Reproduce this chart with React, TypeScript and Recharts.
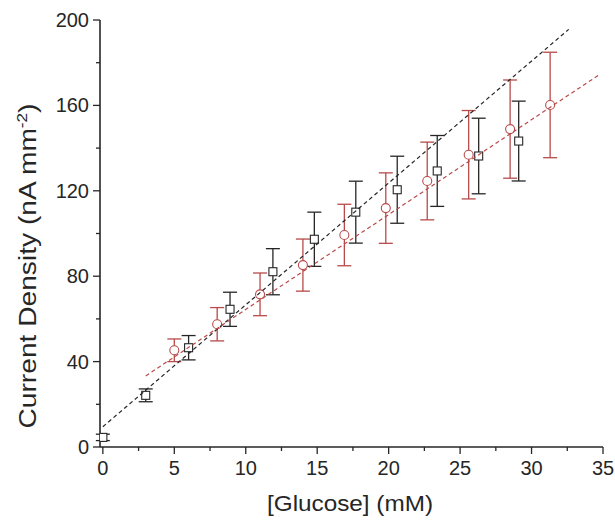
import { ComposedChart, Scatter, XAxis, YAxis, ErrorBar, Label } from 'recharts';

// squares (black) series
const glucoseBlack = [0, 3.0, 6.0, 8.9, 11.9, 14.8, 17.7, 20.6, 23.4, 26.3, 29.1];
const currentBlack = [4.5, 24.2, 46.5, 64.5, 82.1, 97.3, 110, 120.5, 129.3, 136.3, 143.3];
const errBlack = [1.5, 3, 5.7, 8, 10.8, 12.7, 14.5, 15.7, 16.6, 17.7, 18.7];

// circles (red) series
const glucoseRed = [5.0, 8.0, 11.0, 14.0, 16.9, 19.8, 22.7, 25.6, 28.5, 31.3];
const currentRed = [45.3, 57.5, 71.5, 85.2, 99.3, 111.9, 124.6, 136.9, 148.9, 160.2];
const errRed = [5.3, 7.8, 10, 12.2, 14.4, 16.5, 18.2, 20.7, 23, 24.7];

// linear fit end points
const fitBlackX = [0, 32.6];
const fitBlackY = [9.5, 195.6];
const fitRedX = [3.0, 34.7];
const fitRedY = [33.3, 174.2];

const xTicks = [0, 2.5, 5, 7.5, 10, 12.5, 15, 17.5, 20, 22.5, 25, 27.5, 30, 32.5, 35];
const yTicks = [0, 20, 40, 60, 80, 100, 120, 140, 160, 180, 200];

const INK = '#262626';
const RED = '#b84a4a';
const FONT = '"Liberation Sans", Arial, sans-serif';

const blackData = glucoseBlack.map((x, i) => ({ x, y: currentBlack[i], err: errBlack[i] }));
const redData = glucoseRed.map((x, i) => ({ x, y: currentRed[i], err: errRed[i] }));
const fitBlack = fitBlackX.map((x, i) => ({ x, y: fitBlackY[i] }));
const fitRed = fitRedX.map((x, i) => ({ x, y: fitRedY[i] }));

function XTick(props: any) {
  const { x, y, payload } = props;
  const major = payload.value % 5 === 0;
  return (
    <g>
      <line x1={x} x2={x} y1={y} y2={y + (major ? 7 : 4)} stroke={INK} strokeWidth={1.3} />
      {major && (
        <text x={x} y={y + 28} textAnchor="middle" fontSize={20} fontFamily={FONT} fill={INK}>
          {payload.value}
        </text>
      )}
    </g>
  );
}

function YTick(props: any) {
  const { x, y, payload } = props;
  const major = payload.value % 40 === 0;
  return (
    <g>
      <line x1={x - (major ? 7 : 4)} x2={x} y1={y} y2={y} stroke={INK} strokeWidth={1.3} />
      {major && (
        <text x={x - 11} y={y + 7} textAnchor="end" fontSize={20} fontFamily={FONT} fill={INK}>
          {payload.value}
        </text>
      )}
    </g>
  );
}

const square = (props: any) => (
  <rect x={props.cx - 4} y={props.cy - 4} width={8} height={8} fill="#fff" stroke={INK} strokeWidth={1.1} />
);
const circle = (props: any) => (
  <circle cx={props.cx} cy={props.cy} r={4.5} fill="#fff" stroke={RED} strokeWidth={1.1} />
);
const none = () => <g />;

export default function App() {
  return (
    <div style={{ position: 'absolute', left: 0, top: 0, width: 615, height: 521, background: '#fff' }}>
      <ComposedChart width={615} height={521} margin={{ top: 20, right: 12, bottom: 0, left: 40 }}>
        <XAxis
          type="number"
          dataKey="x"
          domain={[-0.2, 35]}
          ticks={xTicks}
          interval={0}
          tickSize={0}
          tickMargin={0}
          tickLine={false}
          tick={<XTick />}
          axisLine={{ stroke: INK, strokeWidth: 1.6 }}
          height={74}
          allowDataOverflow
        >
          <Label
            content={() => (
              <text
                x={350}
                y={511}
                textAnchor="middle"
                fontSize={22}
                fontFamily={FONT}
                fill={INK}
                textLength={166}
                lengthAdjust="spacingAndGlyphs"
              >
                [Glucose] (mM)
              </text>
            )}
          />
        </XAxis>
        <YAxis
          type="number"
          dataKey="y"
          domain={[0, 200]}
          ticks={yTicks}
          interval={0}
          tickSize={0}
          tickMargin={0}
          tickLine={false}
          tick={<YTick />}
          axisLine={{ stroke: INK, strokeWidth: 1.6 }}
          width={60}
          allowDataOverflow
        >
          <Label
            content={() => (
              <text
                x={36}
                y={266}
                transform="rotate(-90 36 266)"
                textAnchor="middle"
                fontSize={23}
                fontFamily={FONT}
                fill={INK}
                textLength={325}
                lengthAdjust="spacingAndGlyphs"
              >
                Current Density (nA mm
                <tspan fontSize={14} dy={-9}>-2</tspan>
                <tspan dy={9}>)</tspan>
              </text>
            )}
          />
        </YAxis>
        <Scatter data={redData} shape={circle} isAnimationActive={false}>
          <ErrorBar dataKey="err" direction="y" width={7} stroke={RED} strokeWidth={1.3} isAnimationActive={false} />
        </Scatter>
        <Scatter data={blackData} shape={square} isAnimationActive={false}>
          <ErrorBar dataKey="err" direction="y" width={7} stroke={INK} strokeWidth={1.3} isAnimationActive={false} />
        </Scatter>
        <Scatter
          data={fitBlack}
          shape={none}
          line={{ stroke: INK, strokeWidth: 1.2, strokeDasharray: '4 3' }}
          isAnimationActive={false}
        />
        <Scatter
          data={fitRed}
          shape={none}
          line={{ stroke: RED, strokeWidth: 1.2, strokeDasharray: '4 3' }}
          isAnimationActive={false}
        />
      </ComposedChart>
    </div>
  );
}
